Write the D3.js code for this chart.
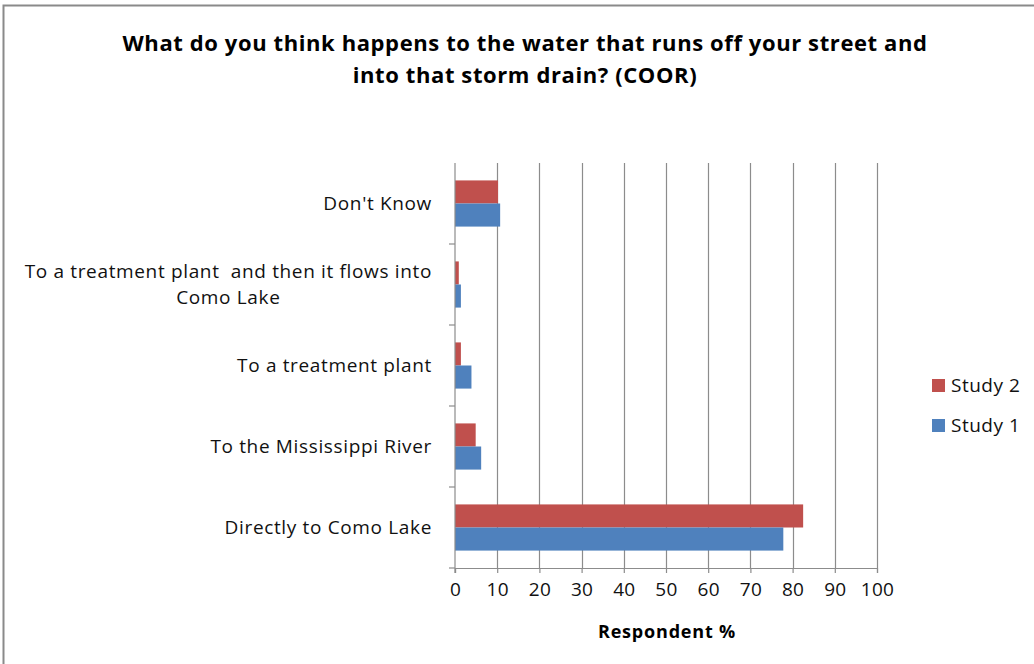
<!DOCTYPE html>
<html>
<head>
<meta charset="utf-8">
<script src="https://cdn.jsdelivr.net/npm/d3@7"></script>
<style>
  html, body { margin: 0; padding: 0; background: #fff; }
  svg { display: block; font-family: "Open Sans", "Noto Sans", sans-serif; }
  text { white-space: pre; }
</style>
</head>
<body>
<svg id="chart" width="1034" height="664"></svg>
<script>
// Survey answers, top to bottom as drawn
const categories = [
  "Don't Know",
  "To a treatment plant  and then it flows into|Como Lake",
  "To a treatment plant",
  "To the Mississippi River",
  "Directly to Como Lake"
];
const study2 = [10.2, 0.9, 1.4, 4.9, 82.5];
const study1 = [10.7, 1.4, 3.9, 6.2, 77.8];
const seriesNames = ["Study 2", "Study 1"];
const seriesColors = ["#C0504D", "#4F81BD"];
const xTicks = [0, 10, 20, 30, 40, 50, 60, 70, 80, 90, 100];

const titleLines = [
  "What do you think happens to the water that runs off your street and",
  "into that storm drain? (COOR)"
];
const xTitle = "Respondent %";

const svg = d3.select("#chart");

// Chart frame
svg.append("path")
  .attr("d", "M3.5,664 V5.5 H1034")
  .attr("fill", "none")
  .attr("stroke", "#8a8a8a")
  .attr("stroke-width", 2);

const plot = { left: 455, right: 877, top: 163, bottom: 568 };

const x = d3.scaleLinear().domain([0, 100]).range([plot.left, plot.right]);
const y = d3.scaleBand().domain(categories).range([plot.top, plot.bottom]);
const groupPad = 0.215;
const inner = d3.scaleBand().domain(seriesNames)
  .range([y.bandwidth() * groupPad, y.bandwidth() * (1 - groupPad)]);

// Vertical gridlines
svg.append("g")
  .selectAll("line")
  .data(xTicks.filter(t => t > 0))
  .join("line")
  .attr("x1", d => Math.round(x(d)) + 0.5)
  .attr("x2", d => Math.round(x(d)) + 0.5)
  .attr("y1", plot.top)
  .attr("y2", plot.bottom)
  .attr("stroke", "#8c8c8c")
  .attr("stroke-width", 1.2);

// Bars
const rows = categories.map((c, i) => ({ c, vals: [study2[i], study1[i]] }));
const groups = svg.append("g").selectAll("g")
  .data(rows)
  .join("g")
  .attr("transform", d => `translate(0,${y(d.c)})`);
groups.selectAll("rect")
  .data(d => d.vals.map((v, k) => ({ v, k })))
  .join("rect")
  .attr("x", x(0))
  .attr("y", d => inner(seriesNames[d.k]))
  .attr("width", d => x(d.v) - x(0))
  .attr("height", inner.bandwidth())
  .attr("fill", d => seriesColors[d.k]);

// X axis
const xAxis = svg.append("g")
  .attr("transform", `translate(0,${plot.bottom})`)
  .call(d3.axisBottom(x).tickValues(xTicks).tickSize(5).tickPadding(10));
xAxis.select(".domain").attr("stroke", "#8c8c8c").attr("stroke-width", 1.2);
xAxis.selectAll(".tick line").attr("stroke", "#8c8c8c").attr("stroke-width", 1.2);
xAxis.selectAll(".tick text")
  .attr("font-size", 19)
  .attr("letter-spacing", 0.3)
  .attr("font-family", "'Open Sans', sans-serif")
  .attr("fill", "#111");

// Y axis with tick marks at band edges
const yAxisG = svg.append("g");
yAxisG.append("line")
  .attr("x1", plot.left).attr("x2", plot.left)
  .attr("y1", plot.top).attr("y2", plot.bottom + 5)
  .attr("stroke", "#8c8c8c").attr("stroke-width", 1.2);
yAxisG.selectAll("line.tk")
  .data(categories.slice(1).concat(["__end"]))
  .join("line")
  .attr("class", "tk")
  .attr("x1", plot.left - 6).attr("x2", plot.left)
  .attr("y1", (d, i) => i < categories.length - 1 ? y(d) : plot.bottom)
  .attr("y2", (d, i) => i < categories.length - 1 ? y(d) : plot.bottom)
  .attr("stroke", "#8c8c8c").attr("stroke-width", 1.2);

// Category labels (multi-line labels split on "|", later lines centred under the first)
const labelRight = 432;
svg.append("g").selectAll("text")
  .data(categories)
  .join("text")
  .attr("font-size", 19)
  .attr("letter-spacing", 0.65)
  .attr("fill", "#111")
  .each(function (d) {
    const parts = d.split("|");
    const cy = y(d) + y.bandwidth() / 2;
    const lh = 26;
    const t = d3.select(this);
    const first = t.append("tspan")
      .attr("x", labelRight)
      .attr("text-anchor", "end")
      .attr("y", cy - (parts.length - 1) / 2 * lh)
      .attr("dy", "0.35em")
      .text(parts[0]);
    const w = first.node().getComputedTextLength();
    parts.slice(1).forEach((p, i) => {
      t.append("tspan")
        .attr("x", labelRight - w / 2)
        .attr("text-anchor", "middle")
        .attr("y", cy + (i + 1 - (parts.length - 1) / 2) * lh)
        .attr("dy", "0.35em")
        .text(p);
    });
  });

// Title
svg.append("g").selectAll("text")
  .data(titleLines)
  .join("text")
  .attr("x", 525)
  .attr("y", (d, i) => 43 + i * 32)
  .attr("dy", "0.35em")
  .attr("text-anchor", "middle")
  .attr("font-size", 22)
  .attr("letter-spacing", 0.6)
  .attr("font-weight", "bold")
  .attr("fill", "#000")
  .text(d => d);

// Axis title
svg.append("text")
  .attr("x", 667)
  .attr("y", 632)
  .attr("dy", "0.35em")
  .attr("text-anchor", "middle")
  .attr("font-size", 18)
  .attr("letter-spacing", 0.8)
  .attr("font-weight", "bold")
  .attr("fill", "#000")
  .text(xTitle);

// Legend
const legend = svg.append("g").selectAll("g")
  .data(seriesNames)
  .join("g")
  .attr("transform", (d, i) => `translate(932,${379 + i * 40})`);
legend.append("rect")
  .attr("width", 13).attr("height", 13)
  .attr("fill", (d, i) => seriesColors[i]);
legend.append("text")
  .attr("x", 19).attr("y", 6.5).attr("dy", "0.35em")
  .attr("font-size", 19)
  .attr("letter-spacing", 0.5)
  .attr("fill", "#111")
  .text(d => d);
</script>
</body>
</html>
